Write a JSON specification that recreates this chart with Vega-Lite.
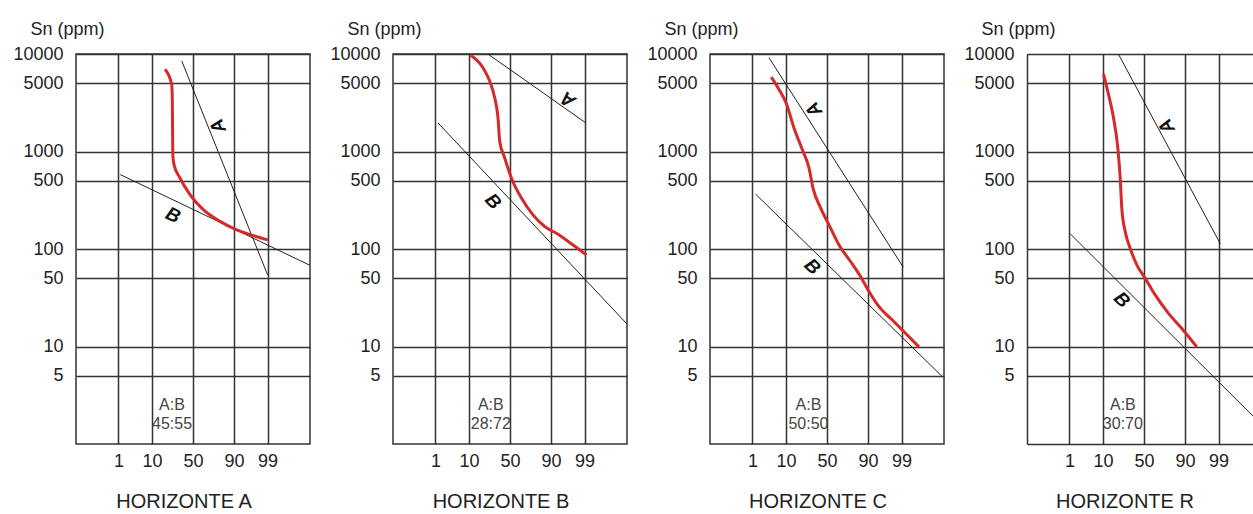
{
  "$schema": "https://vega.github.io/schema/vega-lite/v6.json",
  "background": "white",
  "padding": {"left": 12, "top": 19, "right": 0, "bottom": 0},
  "spacing": 83,
  "bounds": "flush",
  "config": {
    "font": "Liberation Sans",
    "view": {"stroke": "#333", "strokeWidth": 1.5},
    "axis": {"grid": true, "gridColor": "#333", "gridWidth": 1.5, "gridOpacity": 1, "domain": false, "ticks": false, "tickSize": 0, "labelFont": "Liberation Sans", "labelFontSize": 18, "labelColor": "#222", "labelFlush": false, "labelOverlap": false},
    "axisX": {"labelPadding": 8, "labelFontSize": 18},
    "axisY": {"labelPadding": 13, "labelFontSize": 18}
  },
  "datasets": {
    "pts": [
      {"h": "A", "series": "A", "z": -0.35, "ppm": 8475},
      {"h": "A", "series": "A", "z": 2.33, "ppm": 54},
      {"h": "A", "series": "B", "z": -2.27, "ppm": 580},
      {"h": "A", "series": "B", "z": 3.65, "ppm": 68},
      {"h": "A", "series": "curve", "z": -0.874, "ppm": 6970},
      {"h": "A", "series": "curve", "z": -0.665, "ppm": 4880},
      {"h": "A", "series": "curve", "z": -0.645, "ppm": 3290},
      {"h": "A", "series": "curve", "z": -0.63, "ppm": 930},
      {"h": "A", "series": "curve", "z": -0.593, "ppm": 734},
      {"h": "A", "series": "curve", "z": -0.406, "ppm": 535},
      {"h": "A", "series": "curve", "z": -0.094, "ppm": 361},
      {"h": "A", "series": "curve", "z": 0.321, "ppm": 253},
      {"h": "A", "series": "curve", "z": 0.842, "ppm": 192},
      {"h": "A", "series": "curve", "z": 1.364, "ppm": 157},
      {"h": "A", "series": "curve", "z": 1.881, "ppm": 137},
      {"h": "A", "series": "curve", "z": 2.331, "ppm": 124},

      {"h": "B", "series": "A", "z": -0.69, "ppm": 10000},
      {"h": "B", "series": "A", "z": 2.36, "ppm": 1970},
      {"h": "B", "series": "B", "z": -2.25, "ppm": 1970},
      {"h": "B", "series": "B", "z": 3.65, "ppm": 17},
      {"h": "B", "series": "curve", "z": -1.226, "ppm": 9700},
      {"h": "B", "series": "curve", "z": -0.842, "ppm": 7230},
      {"h": "B", "series": "curve", "z": -0.633, "ppm": 5275},
      {"h": "B", "series": "curve", "z": -0.477, "ppm": 3556},
      {"h": "B", "series": "curve", "z": -0.374, "ppm": 2214},
      {"h": "B", "series": "curve", "z": -0.321, "ppm": 1275},
      {"h": "B", "series": "curve", "z": -0.165, "ppm": 859},
      {"h": "B", "series": "curve", "z": 0.044, "ppm": 535},
      {"h": "B", "series": "curve", "z": 0.356, "ppm": 333},
      {"h": "B", "series": "curve", "z": 0.718, "ppm": 224},
      {"h": "B", "series": "curve", "z": 1.083, "ppm": 170},
      {"h": "B", "series": "curve", "z": 1.448, "ppm": 145},
      {"h": "B", "series": "curve", "z": 1.966, "ppm": 110},
      {"h": "B", "series": "curve", "z": 2.384, "ppm": 87},

      {"h": "C", "series": "A", "z": -1.81, "ppm": 9160},
      {"h": "C", "series": "A", "z": 2.38, "ppm": 65},
      {"h": "C", "series": "B", "z": -2.23, "ppm": 366},
      {"h": "C", "series": "B", "z": 3.6, "ppm": 4.9},
      {"h": "C", "series": "curve", "z": -1.738, "ppm": 5800},
      {"h": "C", "series": "curve", "z": -1.498, "ppm": 4335},
      {"h": "C", "series": "curve", "z": -1.257, "ppm": 3040},
      {"h": "C", "series": "curve", "z": -1.03, "ppm": 1746},
      {"h": "C", "series": "curve", "z": -0.771, "ppm": 1047},
      {"h": "C", "series": "curve", "z": -0.562, "ppm": 678},
      {"h": "C", "series": "curve", "z": -0.437, "ppm": 422},
      {"h": "C", "series": "curve", "z": -0.197, "ppm": 263},
      {"h": "C", "series": "curve", "z": 0.062, "ppm": 177},
      {"h": "C", "series": "curve", "z": 0.374, "ppm": 110},
      {"h": "C", "series": "curve", "z": 0.739, "ppm": 74},
      {"h": "C", "series": "curve", "z": 1.051, "ppm": 52},
      {"h": "C", "series": "curve", "z": 1.31, "ppm": 36.6},
      {"h": "C", "series": "curve", "z": 1.622, "ppm": 25.6},
      {"h": "C", "series": "curve", "z": 2.037, "ppm": 18.7},
      {"h": "C", "series": "curve", "z": 2.455, "ppm": 13.6},
      {"h": "C", "series": "curve", "z": 2.87, "ppm": 9.9},

      {"h": "R", "series": "A", "z": -0.8, "ppm": 10000},
      {"h": "R", "series": "A", "z": 2.38, "ppm": 113},
      {"h": "R", "series": "B", "z": -2.3, "ppm": 143},
      {"h": "R", "series": "B", "z": 3.65, "ppm": 1.6},
      {"h": "R", "series": "curve", "z": -1.264, "ppm": 6270},
      {"h": "R", "series": "curve", "z": -1.108, "ppm": 3850},
      {"h": "R", "series": "curve", "z": -0.952, "ppm": 2213},
      {"h": "R", "series": "curve", "z": -0.817, "ppm": 1087},
      {"h": "R", "series": "curve", "z": -0.743, "ppm": 535},
      {"h": "R", "series": "curve", "z": -0.693, "ppm": 263},
      {"h": "R", "series": "curve", "z": -0.587, "ppm": 151},
      {"h": "R", "series": "curve", "z": -0.431, "ppm": 102},
      {"h": "R", "series": "curve", "z": -0.225, "ppm": 68.8},
      {"h": "R", "series": "curve", "z": 0.037, "ppm": 50},
      {"h": "R", "series": "curve", "z": 0.349, "ppm": 33.8},
      {"h": "R", "series": "curve", "z": 0.764, "ppm": 21.9},
      {"h": "R", "series": "curve", "z": 1.179, "ppm": 15.3},
      {"h": "R", "series": "curve", "z": 1.647, "ppm": 9.9}
    ],
    "tags": [
      {"h": "A", "tag": "A", "z": 0.78, "ppm": 1820},
      {"h": "A", "tag": "B", "z": -0.62, "ppm": 222},
      {"h": "B", "tag": "A", "z": 1.81, "ppm": 3420},
      {"h": "B", "tag": "B", "z": -0.53, "ppm": 308},
      {"h": "C", "tag": "A", "z": -0.41, "ppm": 2700},
      {"h": "C", "tag": "B", "z": -0.46, "ppm": 66},
      {"h": "R", "tag": "A", "z": 0.71, "ppm": 1820},
      {"h": "R", "tag": "B", "z": -0.69, "ppm": 30}
    ],
    "notes": [
      {"h": "A", "label": "A:B\n45:55", "z": -0.655, "ppm": 2.5},
      {"h": "B", "label": "A:B\n28:72", "z": -0.6, "ppm": 2.5},
      {"h": "C", "label": "A:B\n50:50", "z": -0.58, "ppm": 2.5},
      {"h": "R", "label": "A:B\n30:70", "z": -0.66, "ppm": 2.5}
    ]
  },
  "hconcat": [
    {
      "width": 234, "height": 390,
      "title": {"text": "HORIZONTE A", "orient": "bottom", "anchor": "middle", "frame": "group", "dx": -9, "offset": 22, "fontSize": 20, "fontWeight": "normal", "color": "#222"},
      "layer": [
        {"data": {"name": "pts"}, "transform": [{"filter": "datum.h === 'A' && datum.series !== 'curve'"}],
         "mark": {"type": "line", "color": "#222", "strokeWidth": 1, "clip": true},
         "encoding": {
           "x": {"field": "z", "type": "quantitative", "scale": {"domain": [-3.65, 3.65], "nice": false, "zero": false}, "axis": {"values": [-2.3263, -1.2816, 0, 1.2816, 2.3263], "labelFontSize": 18, "labelExpr": "datum.value < -2 ? '1' : datum.value < -1 ? '10' : datum.value < 1 ? '50' : datum.value < 2 ? '90' : '99'", "title": null}},
           "y": {"field": "ppm", "type": "quantitative", "scale": {"type": "log", "domain": [1, 10000], "nice": false}, "axis": {"values": [5, 10, 50, 100, 500, 1000, 5000, 10000], "labelFontSize": 18, "format": "d", "title": "Sn (ppm)", "titleAngle": 0, "titleAlign": "left", "titleBaseline": "alphabetic", "titleX": -46, "titleY": -20, "titleFontSize": 18, "titleFontWeight": "normal", "titleColor": "#222", "titleFont": "Liberation Sans"}},
           "detail": {"field": "series"}
         }},
        {"data": {"name": "pts"}, "transform": [{"filter": "datum.h === 'A' && datum.series === 'curve'"}],
         "mark": {"type": "line", "color": "#d42a2a", "strokeWidth": 3, "interpolate": "monotone"},
         "encoding": {"x": {"field": "z", "type": "quantitative"}, "y": {"field": "ppm", "type": "quantitative"}}},
        {"data": {"name": "tags"}, "transform": [{"filter": "datum.h === 'A' && datum.tag === 'A'"}],
         "mark": {"type": "text", "angle": -112, "fontSize": 19, "fontWeight": "bold", "fontStyle": "italic", "color": "#111"},
         "encoding": {"x": {"field": "z", "type": "quantitative"}, "y": {"field": "ppm", "type": "quantitative"}, "text": {"field": "tag"}}},
        {"data": {"name": "tags"}, "transform": [{"filter": "datum.h === 'A' && datum.tag === 'B'"}],
         "mark": {"type": "text", "angle": 25, "fontSize": 19, "fontWeight": "bold", "fontStyle": "italic", "color": "#111"},
         "encoding": {"x": {"field": "z", "type": "quantitative"}, "y": {"field": "ppm", "type": "quantitative"}, "text": {"field": "tag"}}},
        {"data": {"name": "notes"}, "transform": [{"filter": "datum.h === 'A'"}],
         "mark": {"type": "text", "fontSize": 16, "color": "#444", "lineBreak": "\n", "lineHeight": 19, "baseline": "middle"},
         "encoding": {"x": {"field": "z", "type": "quantitative"}, "y": {"field": "ppm", "type": "quantitative"}, "text": {"field": "label"}}}
      ]
    },
    {
      "width": 234, "height": 390,
      "title": {"text": "HORIZONTE B", "orient": "bottom", "anchor": "middle", "frame": "group", "dx": -9, "offset": 22, "fontSize": 20, "fontWeight": "normal", "color": "#222"},
      "layer": [
        {"data": {"name": "pts"}, "transform": [{"filter": "datum.h === 'B' && datum.series !== 'curve'"}],
         "mark": {"type": "line", "color": "#222", "strokeWidth": 1, "clip": true},
         "encoding": {
           "x": {"field": "z", "type": "quantitative", "scale": {"domain": [-3.65, 3.65], "nice": false, "zero": false}, "axis": {"values": [-2.3263, -1.2816, 0, 1.2816, 2.3263], "labelFontSize": 18, "labelExpr": "datum.value < -2 ? '1' : datum.value < -1 ? '10' : datum.value < 1 ? '50' : datum.value < 2 ? '90' : '99'", "title": null}},
           "y": {"field": "ppm", "type": "quantitative", "scale": {"type": "log", "domain": [1, 10000], "nice": false}, "axis": {"values": [5, 10, 50, 100, 500, 1000, 5000, 10000], "labelFontSize": 18, "format": "d", "title": "Sn (ppm)", "titleAngle": 0, "titleAlign": "left", "titleBaseline": "alphabetic", "titleX": -46, "titleY": -20, "titleFontSize": 18, "titleFontWeight": "normal", "titleColor": "#222", "titleFont": "Liberation Sans"}},
           "detail": {"field": "series"}
         }},
        {"data": {"name": "pts"}, "transform": [{"filter": "datum.h === 'B' && datum.series === 'curve'"}],
         "mark": {"type": "line", "color": "#d42a2a", "strokeWidth": 3, "interpolate": "monotone"},
         "encoding": {"x": {"field": "z", "type": "quantitative"}, "y": {"field": "ppm", "type": "quantitative"}}},
        {"data": {"name": "tags"}, "transform": [{"filter": "datum.h === 'B' && datum.tag === 'A'"}],
         "mark": {"type": "text", "angle": -145, "fontSize": 19, "fontWeight": "bold", "fontStyle": "italic", "color": "#111"},
         "encoding": {"x": {"field": "z", "type": "quantitative"}, "y": {"field": "ppm", "type": "quantitative"}, "text": {"field": "tag"}}},
        {"data": {"name": "tags"}, "transform": [{"filter": "datum.h === 'B' && datum.tag === 'B'"}],
         "mark": {"type": "text", "angle": 47, "fontSize": 19, "fontWeight": "bold", "fontStyle": "italic", "color": "#111"},
         "encoding": {"x": {"field": "z", "type": "quantitative"}, "y": {"field": "ppm", "type": "quantitative"}, "text": {"field": "tag"}}},
        {"data": {"name": "notes"}, "transform": [{"filter": "datum.h === 'B'"}],
         "mark": {"type": "text", "fontSize": 16, "color": "#444", "lineBreak": "\n", "lineHeight": 19, "baseline": "middle"},
         "encoding": {"x": {"field": "z", "type": "quantitative"}, "y": {"field": "ppm", "type": "quantitative"}, "text": {"field": "label"}}}
      ]
    },
    {
      "width": 234, "height": 390,
      "title": {"text": "HORIZONTE C", "orient": "bottom", "anchor": "middle", "frame": "group", "dx": -9, "offset": 22, "fontSize": 20, "fontWeight": "normal", "color": "#222"},
      "layer": [
        {"data": {"name": "pts"}, "transform": [{"filter": "datum.h === 'C' && datum.series !== 'curve'"}],
         "mark": {"type": "line", "color": "#222", "strokeWidth": 1, "clip": true},
         "encoding": {
           "x": {"field": "z", "type": "quantitative", "scale": {"domain": [-3.65, 3.65], "nice": false, "zero": false}, "axis": {"values": [-2.3263, -1.2816, 0, 1.2816, 2.3263], "labelFontSize": 18, "labelExpr": "datum.value < -2 ? '1' : datum.value < -1 ? '10' : datum.value < 1 ? '50' : datum.value < 2 ? '90' : '99'", "title": null}},
           "y": {"field": "ppm", "type": "quantitative", "scale": {"type": "log", "domain": [1, 10000], "nice": false}, "axis": {"values": [5, 10, 50, 100, 500, 1000, 5000, 10000], "labelFontSize": 18, "format": "d", "title": "Sn (ppm)", "titleAngle": 0, "titleAlign": "left", "titleBaseline": "alphabetic", "titleX": -46, "titleY": -20, "titleFontSize": 18, "titleFontWeight": "normal", "titleColor": "#222", "titleFont": "Liberation Sans"}},
           "detail": {"field": "series"}
         }},
        {"data": {"name": "pts"}, "transform": [{"filter": "datum.h === 'C' && datum.series === 'curve'"}],
         "mark": {"type": "line", "color": "#d42a2a", "strokeWidth": 3, "interpolate": "monotone"},
         "encoding": {"x": {"field": "z", "type": "quantitative"}, "y": {"field": "ppm", "type": "quantitative"}}},
        {"data": {"name": "tags"}, "transform": [{"filter": "datum.h === 'C' && datum.tag === 'A'"}],
         "mark": {"type": "text", "angle": -123, "fontSize": 19, "fontWeight": "bold", "fontStyle": "italic", "color": "#111"},
         "encoding": {"x": {"field": "z", "type": "quantitative"}, "y": {"field": "ppm", "type": "quantitative"}, "text": {"field": "tag"}}},
        {"data": {"name": "tags"}, "transform": [{"filter": "datum.h === 'C' && datum.tag === 'B'"}],
         "mark": {"type": "text", "angle": 44, "fontSize": 19, "fontWeight": "bold", "fontStyle": "italic", "color": "#111"},
         "encoding": {"x": {"field": "z", "type": "quantitative"}, "y": {"field": "ppm", "type": "quantitative"}, "text": {"field": "tag"}}},
        {"data": {"name": "notes"}, "transform": [{"filter": "datum.h === 'C'"}],
         "mark": {"type": "text", "fontSize": 16, "color": "#444", "lineBreak": "\n", "lineHeight": 19, "baseline": "middle"},
         "encoding": {"x": {"field": "z", "type": "quantitative"}, "y": {"field": "ppm", "type": "quantitative"}, "text": {"field": "label"}}}
      ]
    },
    {
      "width": 226, "height": 390,
      "view": {"stroke": null},
      "title": {"text": "HORIZONTE R", "orient": "bottom", "anchor": "middle", "frame": "group", "dx": -15, "offset": 22, "fontSize": 20, "fontWeight": "normal", "color": "#222"},
      "layer": [
        {"data": {"name": "pts"}, "transform": [{"filter": "datum.h === 'R' && datum.series !== 'curve'"}],
         "mark": {"type": "line", "color": "#222", "strokeWidth": 1, "clip": true},
         "encoding": {
           "x": {"field": "z", "type": "quantitative", "scale": {"domain": [-3.65, 3.40], "nice": false, "zero": false}, "axis": {"values": [-3.65, -2.3263, -1.2816, 0, 1.2816, 2.3263], "labelFontSize": 18, "labelExpr": "datum.value < -3 ? '' : datum.value < -2 ? '1' : datum.value < -1 ? '10' : datum.value < 1 ? '50' : datum.value < 2 ? '90' : '99'", "title": null}},
           "y": {"field": "ppm", "type": "quantitative", "scale": {"type": "log", "domain": [1, 10000], "nice": false}, "axis": {"values": [1, 5, 10, 50, 100, 500, 1000, 5000, 10000], "labelFontSize": 18, "labelExpr": "datum.value < 2 ? '' : format(datum.value, 'd')", "title": "Sn (ppm)", "titleAngle": 0, "titleAlign": "left", "titleBaseline": "alphabetic", "titleX": -46, "titleY": -20, "titleFontSize": 18, "titleFontWeight": "normal", "titleColor": "#222", "titleFont": "Liberation Sans"}},
           "detail": {"field": "series"}
         }},
        {"data": {"name": "pts"}, "transform": [{"filter": "datum.h === 'R' && datum.series === 'curve'"}],
         "mark": {"type": "line", "color": "#d42a2a", "strokeWidth": 3, "interpolate": "monotone"},
         "encoding": {"x": {"field": "z", "type": "quantitative"}, "y": {"field": "ppm", "type": "quantitative"}}},
        {"data": {"name": "tags"}, "transform": [{"filter": "datum.h === 'R' && datum.tag === 'A'"}],
         "mark": {"type": "text", "angle": -118, "fontSize": 19, "fontWeight": "bold", "fontStyle": "italic", "color": "#111"},
         "encoding": {"x": {"field": "z", "type": "quantitative"}, "y": {"field": "ppm", "type": "quantitative"}, "text": {"field": "tag"}}},
        {"data": {"name": "tags"}, "transform": [{"filter": "datum.h === 'R' && datum.tag === 'B'"}],
         "mark": {"type": "text", "angle": 45, "fontSize": 19, "fontWeight": "bold", "fontStyle": "italic", "color": "#111"},
         "encoding": {"x": {"field": "z", "type": "quantitative"}, "y": {"field": "ppm", "type": "quantitative"}, "text": {"field": "tag"}}},
        {"data": {"name": "notes"}, "transform": [{"filter": "datum.h === 'R'"}],
         "mark": {"type": "text", "fontSize": 16, "color": "#444", "lineBreak": "\n", "lineHeight": 19, "baseline": "middle"},
         "encoding": {"x": {"field": "z", "type": "quantitative"}, "y": {"field": "ppm", "type": "quantitative"}, "text": {"field": "label"}}}
      ]
    }
  ]
}
